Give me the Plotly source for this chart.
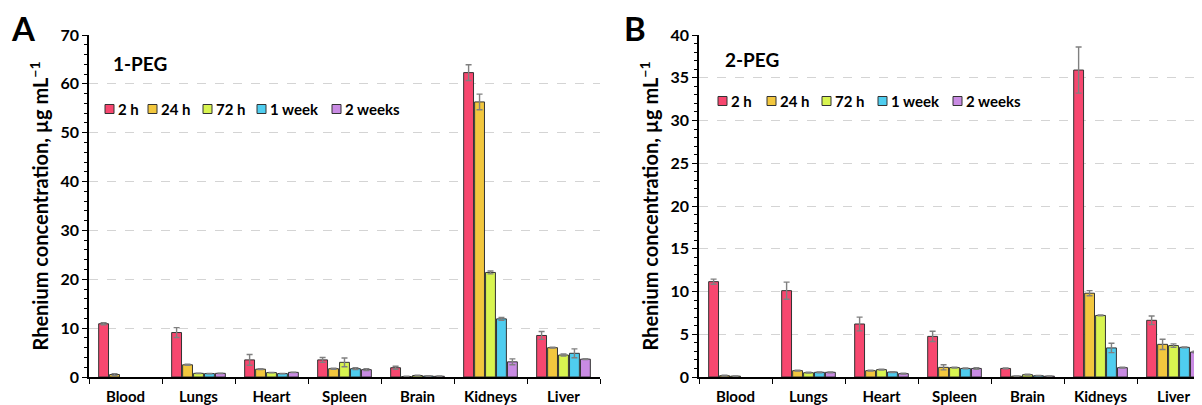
import plotly.graph_objects as go

categories = ["Blood", "Lungs", "Heart", "Spleen", "Brain", "Kidneys", "Liver"]
series_names = ["2 h", "24 h", "72 h", "1 week", "2 weeks"]
colors = ["#F7476F", "#F2C73E", "#D8F450", "#4FCDEF", "#C98BE3"]

# Panel A: 1-PEG
peg1_values = [
    [10.9, 9.1, 3.5, 3.5, 1.9, 62.3, 8.5],     # 2 h
    [0.5, 2.5, 1.6, 1.7, 0.1, 56.3, 6.0],      # 24 h
    [None, 0.75, 0.9, 3.0, 0.3, 21.4, 4.5],    # 72 h
    [None, 0.7, 0.7, 1.7, 0.2, 11.9, 4.85],    # 1 week
    [None, 0.75, 0.95, 1.5, 0.15, 3.1, 3.65],  # 2 weeks
]
peg1_errors = [
    [0.2, 1.0, 1.1, 0.5, 0.3, 1.6, 0.8],
    [0.2, 0.1, 0.1, 0.1, 0.05, 1.6, 0.1],
    [0.0, 0.05, 0.05, 0.9, 0.05, 0.3, 0.2],
    [0.0, 0.05, 0.05, 0.2, 0.05, 0.3, 0.9],
    [0.0, 0.05, 0.05, 0.2, 0.05, 0.6, 0.1],
]

# Panel B: 2-PEG
peg2_values = [
    [11.15, 10.1, 6.2, 4.75, 1.0, 35.9, 6.63],
    [0.15, 0.74, 0.74, 1.13, 0.1, 9.8, 3.82],
    [0.1, 0.5, 0.86, 1.1, 0.27, 7.2, 3.67],
    [None, 0.55, 0.58, 1.0, 0.15, 3.4, 3.47],
    [None, 0.55, 0.39, 1.0, 0.1, 1.09, 2.92],
]
peg2_errors = [
    [0.3, 1.0, 0.8, 0.6, 0.05, 2.7, 0.5],
    [0.05, 0.05, 0.05, 0.3, 0.02, 0.3, 0.6],
    [0.02, 0.05, 0.05, 0.05, 0.05, 0.05, 0.2],
    [0.0, 0.05, 0.05, 0.05, 0.02, 0.55, 0.05],
    [0.0, 0.05, 0.05, 0.1, 0.02, 0.05, 0.1],
]

FONT = "Lato"
OFF = 8            # default page margin of the html body
W, H = 1202 - OFF, 405 - OFF


def px(x):
    return (x - OFF) / W


def py(y):
    return 1 - (y - OFF) / H


fig = go.Figure()
for i, name in enumerate(series_names):
    fig.add_trace(go.Bar(
        x=categories, y=peg1_values[i], name=name, showlegend=False,
        marker=dict(color=colors[i], line=dict(color="#333333", width=1)),
        error_y=dict(type="data", array=peg1_errors[i], color="#808080", thickness=1.4, width=3),
        xaxis="x", yaxis="y",
    ))
for i, name in enumerate(series_names):
    fig.add_trace(go.Bar(
        x=categories, y=peg2_values[i], name=name, showlegend=False,
        marker=dict(color=colors[i], line=dict(color="#333333", width=1)),
        error_y=dict(type="data", array=peg2_errors[i], color="#808080", thickness=1.4, width=3),
        xaxis="x2", yaxis="y2",
    ))

ydom = [py(377), py(35)]

xcommon = dict(
    type="category", tickson="boundaries", ticks="outside", ticklen=5, tickwidth=1.3,
    tickcolor="black", showline=True, linecolor="black", linewidth=1.5,
    tickfont=dict(family=FONT, size=15, color="black", weight="bold"),
    ticklabelstandoff=5,
    showgrid=False, automargin=False,
)
ycommon = dict(
    showline=True, linecolor="black", linewidth=1.5, ticks="outside", ticklen=5,
    tickwidth=1.3, tickcolor="black", zeroline=False, automargin=False,
    showgrid=True, gridcolor="#d4d4d4", griddash="dash", gridwidth=1,
    tickfont=dict(family=FONT, size=16, color="black", weight="bold"),
    title=dict(text="Rhenium concentration, µg mL<sup>−1</sup>",
               font=dict(family=FONT, size=20, color="black", weight="bold"), standoff=6),
)

# Legend swatches (layout decoration, one row per panel)
legend_left_x = [105, 148, 203, 257, 332]
legend_right_x = [718, 767, 822, 878, 953]
legend_left_y = 109
legend_right_y = 101

shapes = []
annotations = []
for xs, yc in ((legend_left_x, legend_left_y), (legend_right_x, legend_right_y)):
    for i, name in enumerate(series_names):
        x0 = xs[i]
        shapes.append(dict(type="rect", xref="paper", yref="paper",
                           x0=px(x0), x1=px(x0 + 9), y0=py(yc + 4.5), y1=py(yc - 4.5),
                           fillcolor=colors[i], line=dict(color="#333333", width=1)))
        annotations.append(dict(text=name, x=px(x0 + 11), y=py(yc), xref="paper", yref="paper",
                                showarrow=False, xanchor="left", yanchor="middle",
                                font=dict(family=FONT, size=15, color="black", weight="bold")))

annotations += [
    dict(text="A", x=px(9), y=py(28), xref="paper", yref="paper", showarrow=False,
         xanchor="left", yanchor="middle", font=dict(family=FONT, size=33, color="black", weight="bold")),
    dict(text="B", x=px(622), y=py(28), xref="paper", yref="paper", showarrow=False,
         xanchor="left", yanchor="middle", font=dict(family=FONT, size=33, color="black", weight="bold")),
    dict(text="1-PEG", x=px(111), y=py(63), xref="paper", yref="paper", showarrow=False,
         xanchor="left", yanchor="middle", font=dict(family=FONT, size=19, color="black", weight="bold")),
    dict(text="2-PEG", x=px(723), y=py(59), xref="paper", yref="paper", showarrow=False,
         xanchor="left", yanchor="middle", font=dict(family=FONT, size=19, color="black", weight="bold")),
]

fig.update_layout(
    width=W, height=H, margin=dict(l=0, r=0, t=0, b=0, autoexpand=False),
    paper_bgcolor="white", plot_bgcolor="white",
    barmode="group", bargap=0.25, bargroupgap=0.1,
    xaxis=dict(domain=[px(89), px(600)], anchor="y", range=[-0.5, 6.5], **xcommon),
    yaxis=dict(domain=ydom, anchor="x", range=[0, 70], dtick=10,
               minor=dict(dtick=2, ticks="outside", ticklen=3, tickcolor="black", showgrid=False),
               **ycommon),
    xaxis2=dict(domain=[px(699), 1.0], anchor="y2", range=[-0.5, 6.39], **xcommon),
    yaxis2=dict(domain=ydom, anchor="x2", range=[0, 40], dtick=5,
                minor=dict(dtick=1, ticks="outside", ticklen=3, tickcolor="black", showgrid=False),
                **ycommon),
    shapes=shapes,
    annotations=annotations,
)

fig.write_html("out.html")
